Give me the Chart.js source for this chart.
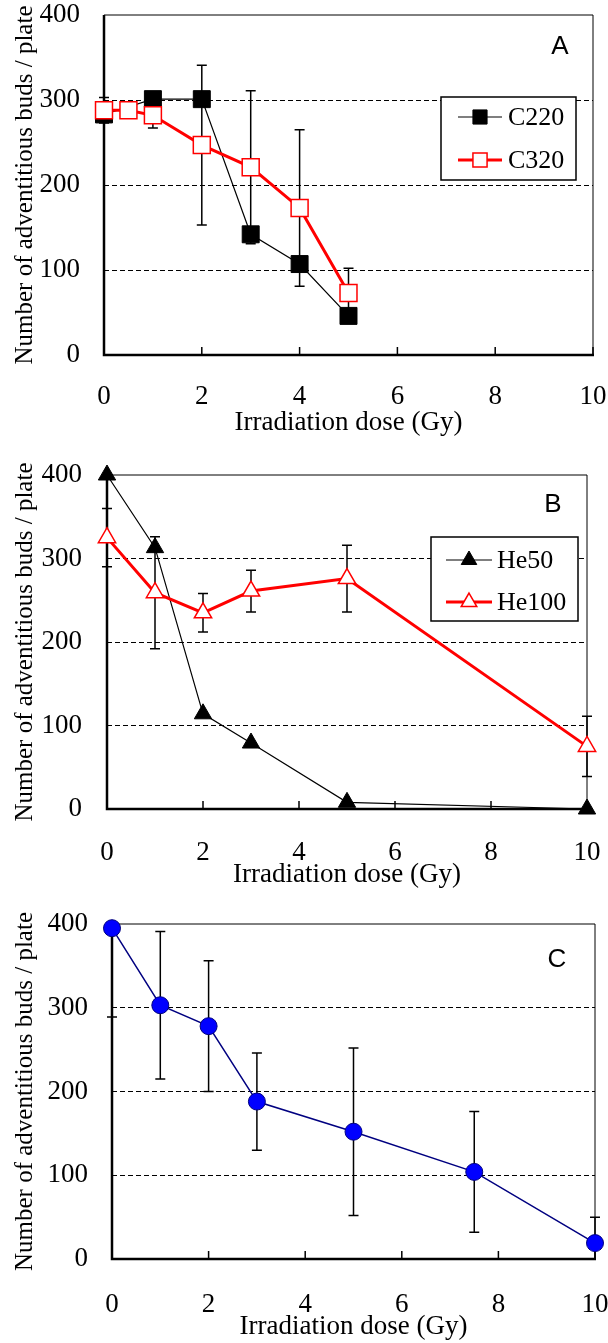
<!DOCTYPE html>
<html>
<head>
<meta charset="utf-8">
<script src="https://cdn.jsdelivr.net/npm/chart.js@4.4.1/dist/chart.umd.min.js"></script>
<style>
  body { margin: 0; background: #fff; width: 608px; height: 1343px; position: relative; overflow: hidden; }
  canvas { position: absolute; left: 0; }
</style>
</head>
<body>
<canvas id="chart-a" width="608" height="445" style="top:0"></canvas>
<canvas id="chart-b" width="608" height="440" style="top:460px"></canvas>
<canvas id="chart-c" width="608" height="434" style="top:909px"></canvas>
<script>
// panel A
const doseC220 = [0, 1, 2, 3, 4, 5];
const budsC220 = [283, 301, 301, 142, 107, 46];
const doseC320 = [0, 0.5, 1, 2, 3, 4, 5];
const budsC320 = [288, 288, 282, 247, 221, 173, 73];
const errC320 = [15, 0, 15, 94, 90, 92, 29];

// panel B
const doseHe = [0, 1, 2, 3, 5, 10];
const budsHe50 = [400, 313, 114, 79, 8, 0];
const budsHe100 = [325, 259, 235, 261, 276, 75];
const errHe100 = [35, 67, 23, 25, 40, 36];

// panel C
const doseC = [0, 1, 2, 3, 5, 7.5, 10];
const budsC = [395, 303, 278, 188, 152, 104, 19];
const errC = [106, 88, 78, 58, 100, 72, 31];

const xTicks = [0, 2, 4, 6, 8, 10];
const yTicks = [0, 100, 200, 300, 400];

const SERIF = "'Liberation Serif', 'Times New Roman', serif";
const SANS = "'Liberation Sans', Arial, sans-serif";

const pts = (xs, ys) => xs.map((x, i) => ({ x: x, y: ys[i] }));

// axes frame, inner x ticks, error bars (under the markers)
const frame = {
	id: 'frame',
	beforeDatasetsDraw(chart) {
		const { ctx, chartArea: a, scales: { x, y } } = chart;
		ctx.save();
		ctx.strokeStyle = '#000';
		ctx.lineWidth = 1;
		ctx.beginPath();
		ctx.moveTo(a.left, a.top); ctx.lineTo(a.right, a.top);
		ctx.moveTo(a.right, a.top); ctx.lineTo(a.right, a.bottom);
		ctx.stroke();
		ctx.lineWidth = 1.5;
		ctx.beginPath();
		x.ticks.forEach(t => {
			const px = x.getPixelForValue(t.value);
			ctx.moveTo(px, a.bottom); ctx.lineTo(px, a.bottom - 8);
		});
		ctx.stroke();
		ctx.lineWidth = 2.5;
		ctx.beginPath();
		ctx.moveTo(a.left, a.top); ctx.lineTo(a.left, a.bottom);
		ctx.lineTo(a.right + 1, a.bottom);
		ctx.stroke();

		// error bars
		ctx.beginPath();
		ctx.rect(0, a.top, chart.width, a.bottom - a.top);
		ctx.clip();
		ctx.lineWidth = 1.5;
		chart.data.datasets.forEach((ds, i) => {
			if (!ds.errors) return;
			chart.getDatasetMeta(i).data.forEach((pt, j) => {
				const e = ds.errors[j];
				if (!e) return;
				const v = ds.data[j].y;
				const top = y.getPixelForValue(v + e);
				const bot = y.getPixelForValue(v - e);
				ctx.beginPath();
				ctx.moveTo(pt.x, top); ctx.lineTo(pt.x, bot);
				ctx.moveTo(pt.x - 5, top); ctx.lineTo(pt.x + 5, top);
				ctx.moveTo(pt.x - 5, bot); ctx.lineTo(pt.x + 5, bot);
				ctx.stroke();
			});
		});
		ctx.restore();
	}
};

// boxed legend inside the plot and the panel letter
const boxLegend = {
	id: 'boxLegend',
	afterDraw(chart, args, o) {
		const ctx = chart.ctx;
		ctx.save();
		if (o.box) {
			const b = o.box;
			ctx.fillStyle = '#fff';
			ctx.fillRect(b.x, b.y, b.w, b.h);
			ctx.strokeStyle = '#000';
			ctx.lineWidth = 1.5;
			ctx.strokeRect(b.x, b.y, b.w, b.h);
			o.items.forEach((idx, r) => {
				const ds = chart.data.datasets[idx];
				const cy = o.rows[r];
				ctx.strokeStyle = ds.borderColor;
				ctx.lineWidth = ds.borderWidth;
				ctx.beginPath();
				ctx.moveTo(o.x0, cy); ctx.lineTo(o.x1, cy);
				ctx.stroke();
				ctx.fillStyle = ds.pointBackgroundColor;
				ctx.strokeStyle = ds.pointBorderColor;
				ctx.lineWidth = ds.pointBorderWidth;
				Chart.helpers.drawPoint(ctx, {
					pointStyle: ds.pointStyle, radius: o.markerRadius, borderWidth: ds.pointBorderWidth, rotation: 0
				}, (o.x0 + o.x1) / 2, cy);
				ctx.fillStyle = '#000';
				ctx.font = '26px ' + SERIF;
				ctx.textBaseline = 'middle';
				ctx.textAlign = 'left';
				ctx.fillText(ds.label, o.textX, cy + 1);
			});
		}
		ctx.fillStyle = '#000';
		ctx.font = '26px ' + SANS;
		ctx.textAlign = 'center';
		ctx.textBaseline = 'middle';
		ctx.fillText(o.letter.text, o.letter.x, o.letter.y);
		ctx.restore();
	}
};

function makeChart(id, datasets, p) {
	return new Chart(document.getElementById(id), {
		type: 'line',
		data: { datasets: datasets },
		options: {
			responsive: false,
			animation: false,
			devicePixelRatio: 1,
			layout: { padding: { left: 0, right: p.right, top: 15, bottom: 0 } },
			plugins: {
				legend: { display: false },
				tooltip: { enabled: false },
				boxLegend: p.legend
			},
			scales: {
				x: {
					type: 'linear',
					min: 0,
					max: 10,
					afterBuildTicks: s => { s.ticks = xTicks.map(v => ({ value: v })); },
					afterFit: s => { s.height = p.xHeight; s.paddingLeft = 0; s.paddingRight = 0; },
					grid: { display: false, drawTicks: false },
					border: { display: false },
					ticks: { padding: p.xPad, color: '#000', maxRotation: 0, autoSkip: false, font: { family: SERIF, size: 27 } },
					title: {
						display: true,
						text: 'Irradiation dose (Gy)',
						color: '#000',
						font: { family: SERIF, size: 27 },
						padding: { top: 0, bottom: p.titlePad }
					}
				},
				y: {
					min: 0,
					max: 400,
					afterBuildTicks: s => { s.ticks = yTicks.map(v => ({ value: v })); },
					afterFit: s => { s.width = p.left; s.paddingTop = 0; s.paddingBottom = 0; },
					grid: {
						drawTicks: false,
						lineWidth: 1,
						color: c => (c.tick && c.tick.value > 0 && c.tick.value < 400) ? '#000' : 'rgba(0,0,0,0)'
					},
					border: { display: false, dash: [5, 3] },
					ticks: { padding: p.yPad, color: '#000', font: { family: SERIF, size: 27 } },
					title: {
						display: true,
						text: 'Number of adventitious buds / plate',
						color: '#000',
						font: { family: SERIF, size: 25 },
						padding: { top: 10, bottom: 0 }
					}
				}
			}
		},
		plugins: [frame, boxLegend]
	});
}

document.addEventListener('DOMContentLoaded', () => {
	makeChart('chart-a', [
		{
			label: 'C220', data: pts(doseC220, budsC220), order: 1, clip: false,
			borderColor: '#000', borderWidth: 1.2, pointStyle: 'rect', pointRadius: 12,
			pointBackgroundColor: '#000', pointBorderColor: '#000', pointBorderWidth: 1
		},
		{
			label: 'C320', data: pts(doseC320, budsC320), errors: errC320, order: 0, clip: false,
			borderColor: '#ff0000', borderWidth: 3, pointStyle: 'rect', pointRadius: 12,
			pointBackgroundColor: '#fff', pointBorderColor: '#ff0000', pointBorderWidth: 1.5
		}
	], {
		left: 104, right: 15, xHeight: 90, xPad: 26, yPad: 24, titlePad: 6,
		legend: {
			box: { x: 441, y: 97, w: 135, h: 83 }, items: [0, 1], rows: [117, 160],
			x0: 458, x1: 502, textX: 508, markerRadius: 10,
			letter: { text: 'A', x: 560, y: 47 }
		}
	});

	makeChart('chart-b', [
		{
			label: 'He50', data: pts(doseHe, budsHe50), order: 1, clip: false,
			borderColor: '#000', borderWidth: 1.2, pointStyle: 'triangle', pointRadius: 10,
			pointBackgroundColor: '#000', pointBorderColor: '#000', pointBorderWidth: 1
		},
		{
			label: 'He100', data: pts(doseHe, budsHe100), errors: errHe100, order: 0, clip: false,
			borderColor: '#ff0000', borderWidth: 3, pointStyle: 'triangle', pointRadius: 10,
			pointBackgroundColor: '#fff', pointBorderColor: '#ff0000', pointBorderWidth: 1.5
		}
	], {
		left: 107, right: 21, xHeight: 91, xPad: 28, yPad: 25, titlePad: 9,
		legend: {
			box: { x: 431, y: 77, w: 147, h: 84 }, items: [0, 1], rows: [100, 142],
			x0: 446, x1: 492, textX: 497, markerRadius: 9,
			letter: { text: 'B', x: 553, y: 45 }
		}
	});

	makeChart('chart-c', [
		{
			label: 'Dose', data: pts(doseC, budsC), errors: errC, clip: false,
			borderColor: '#000080', borderWidth: 1.5, pointStyle: 'circle', pointRadius: 8.5,
			pointBackgroundColor: '#0000ff', pointBorderColor: '#00007f', pointBorderWidth: 1
		}
	], {
		left: 112, right: 13, xHeight: 84, xPad: 30, yPad: 24, titlePad: 0,
		legend: { letter: { text: 'C', x: 557, y: 51 } }
	});
});
</script>
</body>
</html>
